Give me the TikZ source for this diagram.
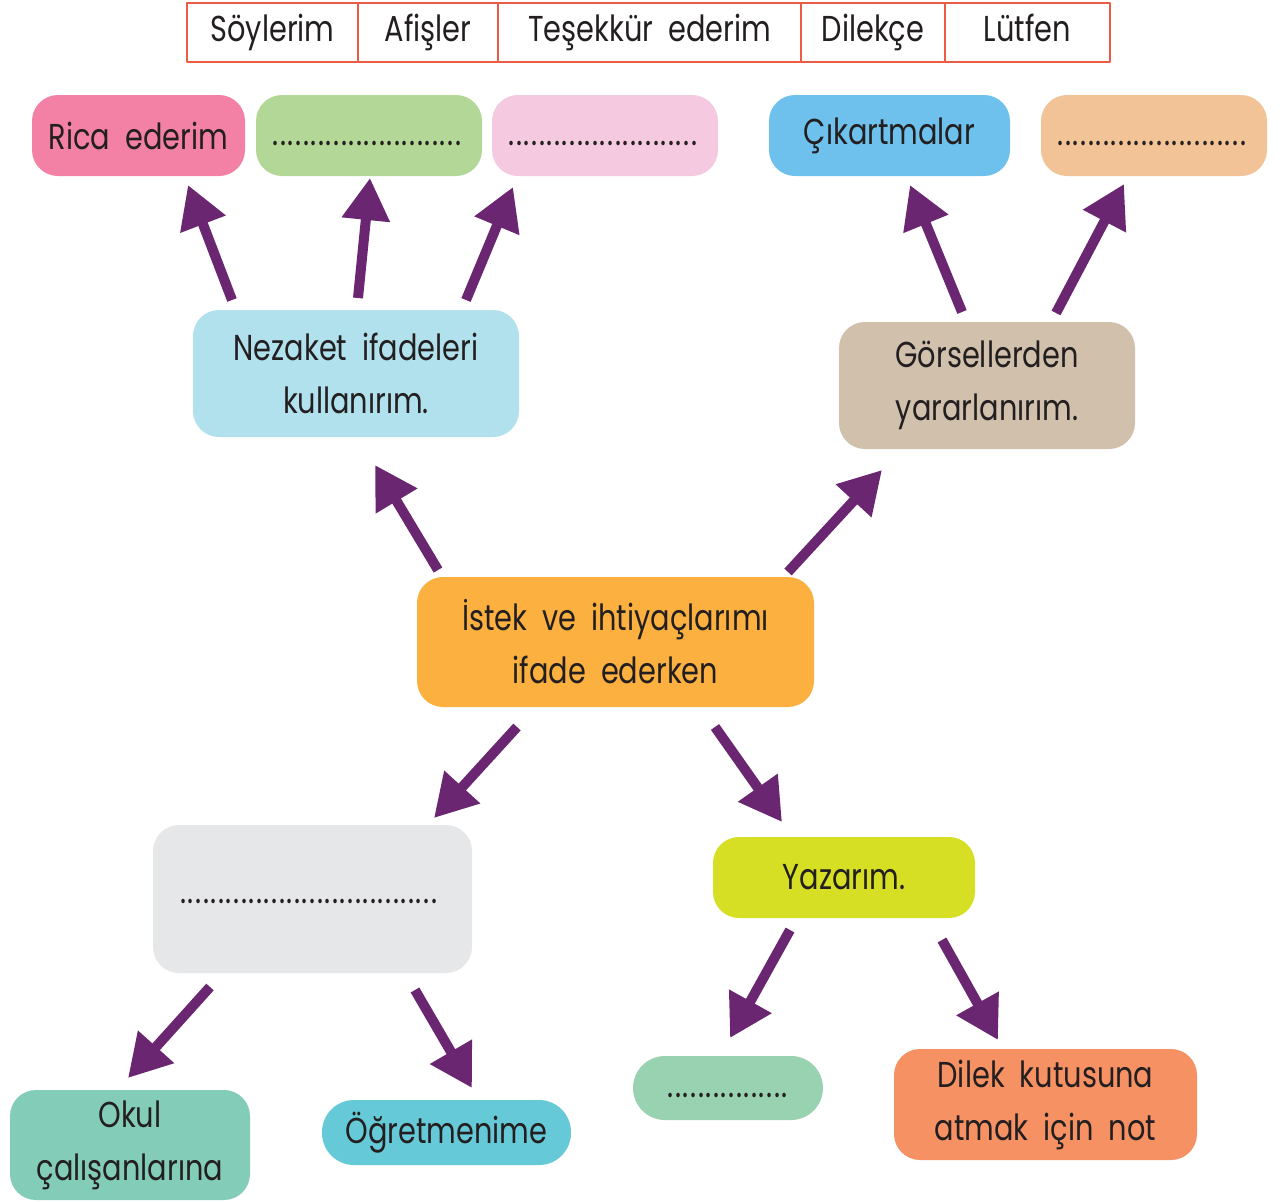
\documentclass[tikz,border=0pt]{standalone}
\usepackage{fontspec}
\setmainfont[FakeStretch=0.8]{Poppins}
\usetikzlibrary{arrows.meta,positioning}

\definecolor{textgray}{HTML}{231F20}
\definecolor{tablered}{HTML}{EC5B45}
\definecolor{arrowpurple}{HTML}{6A2671}
\definecolor{ricapink}{HTML}{F381A5}
\definecolor{leafgreen}{HTML}{B3D797}
\definecolor{lightpink}{HTML}{F5C9DF}
\definecolor{skyblue}{HTML}{6DC1EC}
\definecolor{peach}{HTML}{F2C396}
\definecolor{paleblue}{HTML}{B1E1ED}
\definecolor{sand}{HTML}{D1C0AC}
\definecolor{mango}{HTML}{FBB040}
\definecolor{lightgray}{HTML}{E6E7E8}
\definecolor{lime}{HTML}{D6DF24}
\definecolor{mint}{HTML}{98D2B1}
\definecolor{salmon}{HTML}{F69163}
\definecolor{seagreen}{HTML}{83CCB8}
\definecolor{turquoise}{HTML}{65C9D7}

\newcommand{\boxfont}{\fontsize{36}{53}\selectfont\spaceskip=15pt plus 2pt minus 2pt\relax}
% dotted blank: width, drop below the box centre
\newcommand{\blankdots}[2]{\raisebox{-#2}[0pt][0pt]{\makebox[#1]{\leaders\hbox to 7.6pt{\hss.\hss}\hfill}}}

\begin{document}
\begin{tikzpicture}[x=1pt,y=-1pt,line cap=round,line join=round,
    box/.style={rounded corners=26pt,inner sep=0pt,align=center,font=\boxfont,text=textgray},
    cell/.style={draw=tablered,line width=2pt,inner sep=0pt,outer sep=0pt,minimum height=59pt,
      text height=27pt,text depth=9pt,font=\boxfont,text=textgray},
    sketcharrow/.style={draw=arrowpurple,line width=10pt,line cap=butt,-{Triangle[length=42pt,width=46pt]}}]
  \useasboundingbox (0,0) rectangle (1280,1202);

  % Word table
  \node[cell,minimum width=171pt] (soylerim) at (272.5,32.5) {Söylerim};
  \node[cell,minimum width=140pt,right=0pt of soylerim] (afisler) {Afişler};
  \node[cell,minimum width=303pt,right=0pt of afisler] (tesekkur) {Teşekkür ederim};
  \node[cell,minimum width=144pt,right=0pt of tesekkur] (dilekce) {Dilekçe};
  \node[cell,minimum width=165pt,right=0pt of dilekce] (lutfen) {Lütfen};

  % Top row
  \node[box,fill=ricapink,minimum width=213pt,minimum height=81pt] (rica) at (138.5,135.5) {Rica ederim};
  \node[box,fill=leafgreen,minimum width=226pt,minimum height=81pt] (blankgreen) at (369,135.5) {\blankdots{194pt}{10pt}};
  \node[box,fill=lightpink,minimum width=226pt,minimum height=81pt] (blankpink) at (605,135.5) {\blankdots{194pt}{10pt}};
  \node[box,fill=skyblue,minimum width=241pt,minimum height=81pt] (cikartma) at (889.5,135.5) {Çıkartmalar};
  \node[box,fill=peach,minimum width=226pt,minimum height=81pt] (blankpeach) at (1154,135.5) {\blankdots{194pt}{10pt}};

  % Middle
  \node[box,fill=paleblue,minimum width=326pt,minimum height=127pt] (nezaket) at (356,373.5) {Nezaket ifadeleri\\kullanırım.};
  \node[box,fill=sand,minimum width=296pt,minimum height=127pt] (gorsel) at (987,385.5) {Görsellerden\\yararlanırım.};
  \node[box,fill=mango,minimum width=397pt,minimum height=130pt] (istek) at (615.5,642) {İstek ve ihtiyaçlarımı\\ifade ederken};

  % Lower part
  \node[box,fill=lightgray,minimum width=319pt,minimum height=148pt] (blankgray) at (312.5,899) {\blankdots{266pt}{4pt}};
  \node[box,fill=lime,minimum width=262pt,minimum height=81pt] (yazarim) at (844,877.5) {Yazarım.};
  \node[box,fill=mint,rounded corners=32pt,minimum width=190pt,minimum height=64pt] (blankmint) at (728,1088) {\blankdots{122pt}{9pt}};
  \node[box,fill=salmon,minimum width=303pt,minimum height=111pt] (dilek) at (1045.5,1104.5) {Dilek kutusuna\\atmak için not};
  \node[box,fill=seagreen,minimum width=240pt,minimum height=110pt] (okul) at (130,1145) {Okul\\çalışanlarına};
  \node[box,fill=turquoise,rounded corners=32pt,minimum width=249pt,minimum height=65pt] (ogretmen) at (446.5,1132.5) {Öğretmenime};

  % Arrow ends
  \foreach \name/\px/\py in {r1t/232/300,r1h/188/185,r2t/358/298,r2h/370/178,r3t/466/300,r3h/513/187,
      r4t/962/312,r4h/910/185,r5t/1056/313,r5h/1124/184,
      c1t/438/570,c1h/375/465,c2t/788/572,c2h/882/470,c3t/517/727,c3h/434/818,c4t/715/727,c4h/782/822,
      b1t/210/987,b1h/128/1078,b2t/415/990,b2h/472/1088,b3t/790/930,b3h/730/1038,b4t/942/940,b4h/998/1040}
    \coordinate (\name) at (\px,\py);

  % Arrows
  \foreach \a in {r1,r2,r3,r4,r5,c1,c2,c3,c4,b1,b2,b3,b4}
    \draw[sketcharrow] (\a t) -- (\a h);
\end{tikzpicture}
\end{document}
